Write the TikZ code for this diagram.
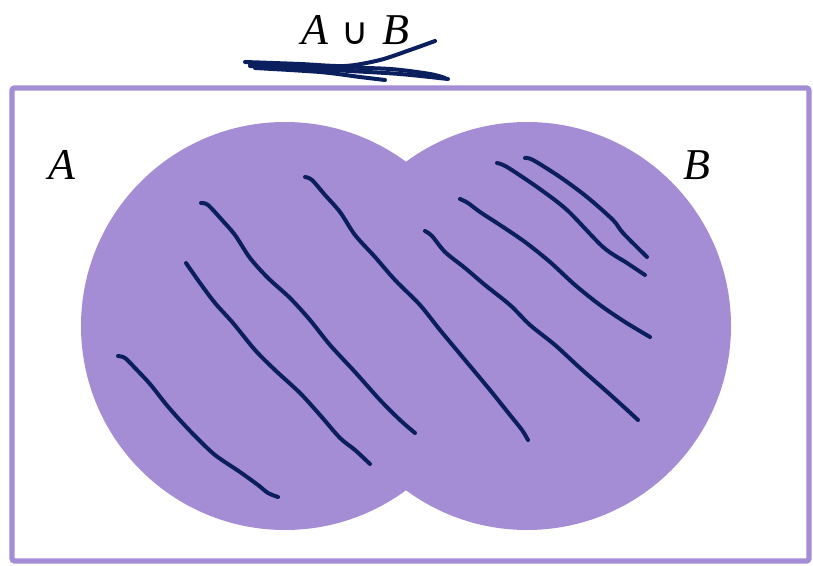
\documentclass[tikz,border=0pt]{standalone}
\usepackage{fontspec}
\setmainfont{Liberation Serif}
\newfontfamily\symf{DejaVu Sans}
\begin{document}
\begin{tikzpicture}[x=0.75pt,y=-0.75pt,
  pen/.style={draw=inkblue, line width=3pt, line cap=round, line join=round},
  lbl/.style={font=\fontsize{33}{40}\selectfont\itshape, inner sep=0pt}]
\definecolor{lav}{HTML}{A58DD5}
\definecolor{inkblue}{HTML}{0B1F5E}
\useasboundingbox (0,0) rectangle (813,566);
\draw[draw=lav, line width=4pt, rounded corners=2pt] (12,88) rectangle (809,561);
\fill[lav] (285,326) circle[radius=204];
\fill[lav] (527,326) circle[radius=204];
\node[lbl] (la) at (62,165) {A};
\node[lbl] (lb) at (697,165) {B};
\node[lbl] (lu) at (355,30) {A\hspace{10pt}{\upshape\symf\fontsize{28}{34}\selectfont ∪}\hspace{10pt}B};
% top scribble
\draw[pen] plot[smooth, tension=0.5] coordinates {(245,62) (300,64) (345,66) (380,60) (410,50) (435,41)};
\draw[pen] plot[smooth, tension=0.5] coordinates {(250,66) (300,68) (350,71) (400,74) (448,79)};
\draw[pen] plot[smooth, tension=0.5] coordinates {(255,68) (320,72) (360,77) (385,80)};
\draw[pen] plot[smooth, tension=0.5] coordinates {(250,64) (330,67) (390,69) (430,74) (445,78)};
% hatching
\draw[pen] plot[smooth, tension=0.5] coordinates {(118,356) (125,358) (135,368) (150,384) (165,403) (178,418) (195,436) (215,455) (240,472) (258,485) (268,493) (278,497)};
\draw[pen] plot[smooth, tension=0.5] coordinates {(186,263) (200,283) (215,303) (233,323) (255,350) (275,370) (300,393) (320,415) (340,438) (355,450) (370,464)};
\draw[pen] plot[smooth, tension=0.5] coordinates {(201,203) (208,205) (222,220) (235,235) (250,258) (268,278) (290,298) (310,320) (330,345) (355,372) (380,400) (400,420) (415,433)};
\draw[pen] plot[smooth, tension=0.5] coordinates {(305,177) (312,180) (325,195) (340,212) (355,235) (375,257) (395,280) (420,305) (440,330) (465,360) (490,390) (510,415) (522,430) (528,440)};
\draw[pen] plot[smooth, tension=0.5] coordinates {(425,231) (432,236) (445,252) (465,268) (485,285) (510,305) (530,325) (555,345) (580,368) (605,390) (625,408) (638,420)};
\draw[pen] plot[smooth, tension=0.5] coordinates {(460,199) (468,203) (480,212) (500,225) (525,242) (550,262) (575,285) (600,305) (625,322) (650,337)};
\draw[pen] plot[smooth, tension=0.5] coordinates {(497,163) (507,167) (537,187) (567,210) (603,247) (627,263) (645,275)};
\draw[pen] plot[smooth, tension=0.5] coordinates {(525,158) (533,160) (560,177) (587,197) (613,220) (623,233) (647,257)};
\end{tikzpicture}
\end{document}
